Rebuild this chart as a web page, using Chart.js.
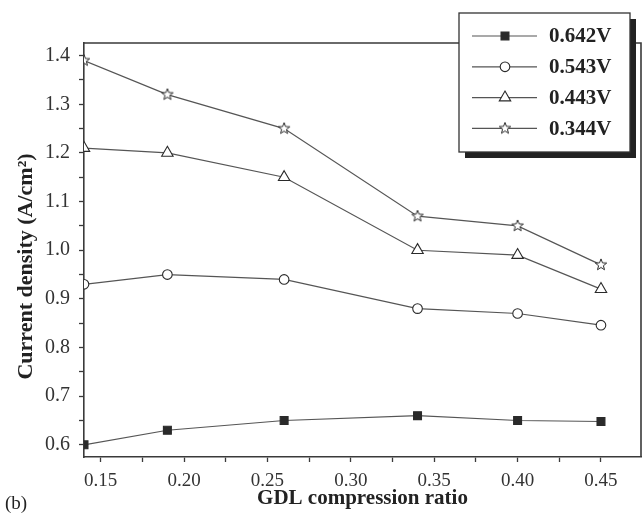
<!DOCTYPE html>
<html>
<head>
<meta charset="utf-8">
<script src="https://cdn.jsdelivr.net/npm/chart.js@4/dist/chart.umd.min.js"></script>
<style>
  body { margin: 0; background: #fff; }
  #wrap { position: relative; width: 642px; height: 516px; }
  #tag { position: absolute; left: 5px; top: 492px; font: 19px "Liberation Serif", serif; color: #222; }
</style>
</head>
<body>
<div id="wrap">
  <canvas id="chart" width="642" height="516"></canvas>
  <div id="tag">(b)</div>
</div>
<script>
const ratios = [0.14, 0.19, 0.26, 0.34, 0.40, 0.45];
const voltages = ["0.642V", "0.543V", "0.443V", "0.344V"];
const v0642 = [0.60, 0.63, 0.65, 0.66, 0.65, 0.648];
const v0543 = [0.93, 0.95, 0.94, 0.88, 0.87, 0.846];
const v0443 = [1.21, 1.20, 1.15, 1.00, 0.99, 0.92];
const v0344 = [1.39, 1.32, 1.25, 1.07, 1.05, 0.97];

const ink = "#2a2a2a";
const lineGray = "#555";

// open five-point star used as a point style
function makeStar(size) {
  const c = document.createElement("canvas");
  c.width = size;
  c.height = size;
  const g = c.getContext("2d");
  const cx = size / 2, cy = size / 2, ro = size / 2 - 1, ri = ro * 0.42;
  g.beginPath();
  for (let i = 0; i < 10; i++) {
    const r = i % 2 === 0 ? ro : ri;
    const a = -Math.PI / 2 + i * Math.PI / 5;
    const px = cx + r * Math.cos(a), py = cy + r * Math.sin(a);
    if (i === 0) g.moveTo(px, py); else g.lineTo(px, py);
  }
  g.closePath();
  g.fillStyle = "#fff";
  g.fill();
  g.strokeStyle = ink;
  g.lineWidth = 1;
  g.stroke();
  return c;
}
const starImg = makeStar(14);

function toPoints(ys) {
  return ratios.map((x, i) => ({ x: x, y: ys[i] }));
}

const styles = [
  { pointStyle: "rect", radius: 5.6, fill: ink },
  { pointStyle: "circle", radius: 4.8, fill: "#fff" },
  { pointStyle: "triangle", radius: 6.6, fill: "#fff" },
  { pointStyle: starImg, radius: 6, fill: "#fff" },
];
const series = [v0642, v0543, v0443, v0344];

const datasets = series.map((ys, i) => ({
  label: voltages[i],
  data: toPoints(ys),
  showLine: true,
  borderColor: lineGray,
  borderWidth: 1.2,
  pointStyle: styles[i].pointStyle,
  pointRadius: styles[i].radius,
  pointBackgroundColor: styles[i].fill,
  pointBorderColor: ink,
  pointBorderWidth: 1.1,
  tension: 0,
}));

const frameAndLegend = {
  id: "frameAndLegend",
  afterDraw(chart) {
    const ctx = chart.ctx;
    const a = chart.chartArea;
    ctx.save();
    // top and right sides of the plot frame
    ctx.strokeStyle = "#3a3a3a";
    ctx.lineWidth = 1.6;
    ctx.beginPath();
    ctx.moveTo(a.left, a.top);
    ctx.lineTo(a.right, a.top);
    ctx.lineTo(a.right, a.bottom);
    ctx.stroke();

    // boxed legend with drop shadow
    const w = 171, h = 139;
    const bx = a.right - 11 - w, by = a.top - 30;
    ctx.fillStyle = "#222";
    ctx.fillRect(bx + 6, by + 6, w, h);
    ctx.fillStyle = "#fff";
    ctx.fillRect(bx, by, w, h);
    ctx.strokeStyle = "#333";
    ctx.lineWidth = 1.3;
    ctx.strokeRect(bx, by, w, h);

    chart.data.datasets.forEach((ds, i) => {
      const y = by + 23 + i * 30.8;
      ctx.strokeStyle = lineGray;
      ctx.lineWidth = 1.2;
      ctx.beginPath();
      ctx.moveTo(bx + 13, y);
      ctx.lineTo(bx + 78, y);
      ctx.stroke();
      ctx.fillStyle = ds.pointBackgroundColor;
      ctx.strokeStyle = ink;
      ctx.lineWidth = 1.1;
      Chart.helpers.drawPoint(ctx, {
        pointStyle: ds.pointStyle,
        radius: ds.pointRadius,
        rotation: 0,
        borderWidth: 1.1,
      }, bx + 46, y);
      ctx.fillStyle = "#222";
      ctx.font = "bold 21px 'Liberation Serif', serif";
      ctx.textAlign = "left";
      ctx.textBaseline = "middle";
      ctx.fillText(ds.label, bx + 90, y + 1);
    });
    ctx.restore();
  },
};

new Chart(document.getElementById("chart"), {
  type: "scatter",
  data: { datasets: datasets },
  options: {
    responsive: false,
    animation: false,
    layout: { autoPadding: false, padding: { top: 43, right: 1, left: 0, bottom: 0 } },
    plugins: {
      legend: { display: false },
      tooltip: { enabled: false },
    },
    scales: {
      x: {
        type: "linear",
        min: 0.14,
        max: 0.474,
        afterFit: (scale) => { scale.height = 59; },
        border: { display: true, color: "#3a3a3a", width: 1.6 },
        grid: { drawOnChartArea: false, drawTicks: true, tickLength: 5, tickColor: "#3a3a3a", tickWidth: 1.3 },
        ticks: {
          stepSize: 0.025,
          includeBounds: false,
          autoSkip: false,
          maxRotation: 0,
          padding: 8,
          color: "#333",
          font: { family: "'Liberation Serif', serif", size: 19 },
          callback: (v) => Math.abs(v * 20 - Math.round(v * 20)) < 1e-6 ? v.toFixed(2) : "",
        },
        title: {
          display: true,
          text: "GDL compression ratio",
          color: "#222",
          font: { family: "'Liberation Serif', serif", size: 21, weight: "bold" },
          padding: { top: 0, bottom: 5 },
        },
      },
      y: {
        min: 0.575,
        max: 1.426,
        afterFit: (scale) => { scale.width = 84; },
        border: { display: true, color: "#3a3a3a", width: 1.6 },
        grid: { drawOnChartArea: false, drawTicks: true, tickLength: 5, tickColor: "#3a3a3a", tickWidth: 1.3 },
        ticks: {
          stepSize: 0.05,
          includeBounds: false,
          autoSkip: false,
          padding: 9,
          color: "#333",
          font: { family: "'Liberation Serif', serif", size: 20 },
          callback: (v) => Math.abs(v * 10 - Math.round(v * 10)) < 1e-6 ? v.toFixed(1) : "",
        },
        title: {
          display: true,
          // trailing spaces nudge the rotated title down to where the original sits
          text: "Current density (A/cm²)\u00a0\u00a0\u00a0\u00a0\u00a0\u00a0",
          color: "#222",
          font: { family: "'Liberation Serif', serif", size: 22, weight: "bold" },
          padding: { top: 13, bottom: 0 },
        },
      },
    },
  },
  plugins: [frameAndLegend],
});
</script>
</body>
</html>
